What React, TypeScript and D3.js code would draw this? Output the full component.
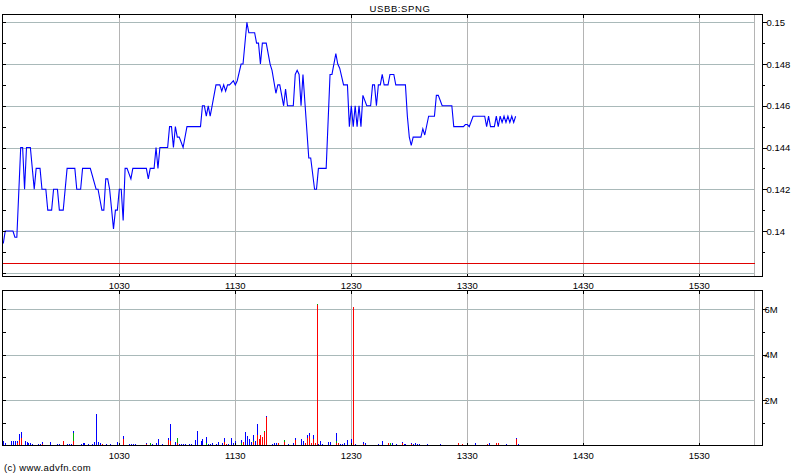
import React from "react";
import * as d3 from "d3";

// ---- Price series (minutes since midnight, price) ----
const priceTimes = [
  570, 571, 575, 576, 577, 579, 580, 581, 582, 584, 586, 587, 589, 590, 592, 593, 595, 596, 598, 599,
  601, 603, 607, 608, 610, 611, 615, 618, 619, 621, 622, 623, 624, 625, 627, 628, 629, 630, 631, 632,
  633, 634, 636, 637, 644, 645, 646, 648, 649, 650, 651, 655, 656, 657, 658, 659, 660, 661, 663, 665,
  672, 673, 674, 675, 676, 677, 678, 680, 682, 683, 684, 685, 686, 687, 688, 689, 690, 691, 693, 694,
  696, 697, 700, 701, 702, 703, 704, 706, 708, 709, 711, 712, 713, 715, 716, 717, 720, 721, 722, 723,
  724, 725, 728, 729, 731, 732, 733, 737, 739, 740, 742, 743, 744, 746, 748, 749, 750, 751, 752, 753,
  754, 755, 756, 758, 760, 761, 762, 763, 764, 765, 766, 767, 769, 770, 772, 773, 778, 779, 780, 781,
  782, 786, 787, 788, 790, 793, 794, 795, 797, 802, 803, 808, 809, 810, 811, 813, 819, 820, 821, 822,
  824, 825, 826, 827, 828, 829, 830, 831, 832, 833, 834, 835,
];
const priceValues = [
  0.1394, 0.14, 0.14, 0.1397, 0.1397, 0.144, 0.144, 0.142, 0.144, 0.144, 0.142, 0.143, 0.143, 0.142, 0.142, 0.141, 0.141, 0.142, 0.142, 0.141,
  0.141, 0.143, 0.143, 0.142, 0.142, 0.143, 0.143, 0.142, 0.142, 0.141, 0.141, 0.1425, 0.1425, 0.142, 0.1401, 0.141, 0.141, 0.142, 0.142, 0.1405,
  0.143, 0.143, 0.1425, 0.143, 0.143, 0.1425, 0.143, 0.143, 0.144, 0.143, 0.144, 0.144, 0.145, 0.145, 0.144, 0.145, 0.1445, 0.1445, 0.144, 0.145,
  0.145, 0.146, 0.146, 0.1455, 0.146, 0.1455, 0.146, 0.147, 0.147, 0.1467, 0.147, 0.1467, 0.147, 0.147, 0.1471, 0.1472, 0.147, 0.1472, 0.148, 0.148,
  0.15, 0.1495, 0.1495, 0.149, 0.149, 0.148, 0.149, 0.149, 0.148, 0.1477, 0.1466, 0.147, 0.147, 0.146, 0.1468, 0.146, 0.146, 0.1475, 0.1477, 0.1475,
  0.146, 0.1475, 0.1435, 0.1435, 0.142, 0.142, 0.143, 0.143, 0.1475, 0.1475, 0.1485, 0.148, 0.1478, 0.147, 0.147, 0.145, 0.146, 0.145, 0.146, 0.145,
  0.146, 0.145, 0.1465, 0.146, 0.146, 0.147, 0.147, 0.146, 0.147, 0.147, 0.1475, 0.147, 0.147, 0.1475, 0.1475, 0.147, 0.147, 0.1455, 0.1445, 0.1441,
  0.1445, 0.1445, 0.1449, 0.1446, 0.1455, 0.1455, 0.1465, 0.1465, 0.146, 0.146, 0.145, 0.145, 0.1451, 0.1451, 0.145, 0.1455, 0.1455, 0.145, 0.1455, 0.145,
  0.145, 0.1455, 0.145, 0.1455, 0.1452, 0.1455, 0.1452, 0.1455, 0.1452, 0.1455, 0.1452, 0.1455,
];
const refPrice = 0.13847;

// ---- Volume series (minute, red / green / blue parts in thousands) ----
const volTimes = [
  570, 571, 574, 575, 576, 577, 578, 579, 581, 582, 583, 584, 585, 588, 589, 590, 594, 598, 599, 601,
  603, 604, 605, 606, 610, 611, 612, 614, 616, 617, 618, 619, 620, 621, 623, 625, 629, 632, 635, 636,
  637, 638, 644, 646, 647, 649, 650, 652, 655, 656, 659, 660, 661, 662, 663, 664, 666, 667, 669, 670,
  672, 673, 675, 676, 677, 678, 680, 681, 683, 684, 685, 686, 688, 689, 690, 693, 694, 695, 696, 697,
  698, 699, 700, 701, 702, 703, 704, 705, 706, 709, 710, 711, 712, 715, 717, 720, 721, 724, 725, 726,
  727, 728, 729, 730, 731, 732, 733, 734, 735, 738, 739, 742, 743, 744, 745, 746, 748, 750, 751, 752,
  756, 757, 764, 766, 769, 770, 771, 773, 776, 777, 778, 781, 782, 783, 784, 785, 789, 796, 805, 807,
  814, 820, 821, 825, 826, 830, 835, 836,
];
const volRed = [
  0, 0, 0, 0, 0, 100, 240, 316, 0, 0, 0, 0, 0, 0, 0, 80, 0, 0, 0, 210,
  0, 0, 0, 200, 0, 0, 0, 0, 0, 0, 0, 0, 0, 80, 0, 0, 0, 270, 0, 0,
  0, 0, 60, 0, 0, 0, 0, 0, 230, 200, 0, 100, 0, 0, 0, 0, 0, 0, 0, 0,
  0, 0, 0, 0, 0, 0, 0, 0, 0, 150, 50, 0, 0, 0, 0, 0, 170, 0, 0, 0,
  0, 150, 0, 460, 290, 465, 390, 580, 1270, 0, 0, 0, 95, 150, 0, 0, 240, 0, 0, 125,
  330, 420, 95, 270, 95, 6180, 0, 0, 0, 0, 0, 110, 95, 0, 0, 0, 0, 0, 6090, 0,
  80, 0, 0, 0, 100, 0, 0, 0, 120, 0, 0, 80, 0, 0, 0, 0, 0, 0, 110, 50,
  0, 50, 0, 110, 110, 0, 290, 0,
];
const volGreen = [
  0, 0, 0, 0, 0, 0, 0, 0, 0, 0, 0, 0, 0, 0, 0, 0, 0, 0, 0, 0,
  0, 0, 0, 340, 0, 0, 0, 0, 0, 0, 0, 0, 0, 0, 0, 0, 0, 0, 0, 0,
  0, 0, 0, 110, 0, 0, 0, 0, 0, 0, 0, 230, 0, 0, 0, 0, 0, 0, 0, 0,
  0, 0, 120, 0, 0, 0, 0, 0, 0, 0, 0, 0, 0, 0, 0, 120, 0, 0, 0, 0,
  0, 50, 0, 0, 0, 0, 0, 60, 0, 0, 0, 0, 0, 90, 0, 0, 0, 0, 0, 0,
  0, 0, 0, 0, 0, 40, 0, 0, 0, 0, 0, 70, 0, 0, 0, 0, 0, 0, 0, 0,
  0, 0, 0, 0, 0, 95, 0, 0, 0, 0, 0, 0, 0, 0, 0, 0, 0, 0, 0, 0,
  0, 0, 0, 0, 0, 0, 0, 0,
];
const volBlue = [
  200, 125, 200, 200, 200, 100, 270, 280, 200, 170, 125, 125, 80, 80, 80, 90, 170, 80, 80, 0,
  80, 80, 80, 100, 80, 110, 110, 80, 80, 170, 1404, 170, 125, 0, 50, 50, 155, 150, 50, 50,
  50, 50, 50, 0, 50, 110, 290, 50, 90, 760, 155, 0, 50, 80, 80, 50, 50, 50, 240, 650,
  200, 290, 255, 80, 80, 110, 50, 155, 110, 180, 0, 50, 330, 110, 200, 140, 0, 595, 420, 290,
  155, 265, 200, 490, 0, 0, 0, 0, 20, 65, 95, 95, 0, 0, 65, 95, 90, 270, 210, 0,
  130, 140, 0, 190, 0, 0, 65, 180, 65, 155, 155, 380, 0, 65, 65, 95, 240, 300, 0, 65,
  75, 125, 65, 180, 0, 0, 95, 65, 35, 50, 50, 40, 80, 110, 80, 50, 50, 50, 0, 0,
  110, 0, 110, 0, 0, 50, 40, 50,
];

// ---- Axis ticks / labels ----
const hourTicks = [630, 690, 750, 810, 870, 930];
const hourLabels = ["1030", "1130", "1230", "1330", "1430", "1530"];
const priceTicks = [0.14, 0.142, 0.144, 0.146, 0.148, 0.15];
const priceLabels = ["0.14", "0.142", "0.144", "0.146", "0.148", "0.15"];
const volTicks = [2e6, 4e6, 6e6];
const volLabels = ["2M", "4M", "6M"];
const title = "USBB:SPNG";
const credit = "(c) www.advfn.com";

const FONT = "'Liberation Sans', Arial, sans-serif";

export default function App() {
  const L = 2.5, R = 762.5;
  const pTop = 14.5, pBot = 276.5;
  const vTop = 290.5, vBot = 445.5;
  const endLine = 754.5;

  const x = d3.scaleLinear().domain([570, 630]).range([3.3, 119.3]);
  const yP = d3.scaleLinear().domain([0.14, 0.15]).range([231, 22.3]);
  const yV = d3.scaleLinear().domain([0, 6e6]).range([445.5, 309]);

  const line = d3
    .line<number>()
    .x((_, i) => x(priceTimes[i]))
    .y((d) => yP(d));

  const gridH = "#a9b9b9";
  const gridV = "#b4b4b4";
  const px = (v: number) => Math.round(v) + 0.5;

  const priceGrid = [0.138, ...priceTicks];
  const priceMinor = d3.range(0, 13).map((i) => 0.138 + i * 0.001);
  const priceRightMinor = [0.139, 0.141, 0.143, 0.145, 0.147, 0.149];
  const volMinor = [1e6, 3e6, 5e6];
  const volLeft = [1e6, 2e6, 3e6, 4e6, 5e6, 6e6];

  const bars: React.ReactElement[] = [];
  volTimes.forEach((t, i) => {
    const bx = Math.round(x(t));
    let base = 0;
    const parts: [number, string][] = [
      [volRed[i], "#ff0000"],
      [volGreen[i], "#00b000"],
      [volBlue[i], "#0000ff"],
    ];
    parts.forEach(([v, c], j) => {
      if (v <= 0) return;
      const y0 = yV(base * 1000);
      const y1 = yV((base + v) * 1000);
      bars.push(
        <rect key={`b${i}-${j}`} x={bx} y={y1} width={1} height={Math.max(0.8, y0 - y1)} fill={c} />
      );
      base += v;
    });
  });

  return (
    <svg
      width={800}
      height={475}
      style={{ position: "absolute", left: 0, top: 0, background: "#fff" }}
      fontFamily={FONT}
    >
      <rect x={0} y={0} width={800} height={475} fill="#fff" />
      <defs>
        <clipPath id="clipP">
          <rect x={L} y={pTop} width={R - L} height={pBot - pTop} />
        </clipPath>
      </defs>
      <text x={400} y={11.5} textAnchor="middle" fontSize={9.5} letterSpacing={0.6} fill="#000">
        {title}
      </text>

      {/* ---------- Price panel ---------- */}
      <g shapeRendering="crispEdges">
        {priceGrid.map((v) => (
          <line key={`pg${v}`} x1={L} x2={endLine} y1={px(yP(v))} y2={px(yP(v))} stroke={gridH} />
        ))}
        {hourTicks.map((t) => (
          <line key={`pv${t}`} x1={px(x(t))} x2={px(x(t))} y1={pTop} y2={pBot} stroke={gridV} />
        ))}
        <line x1={endLine} x2={endLine} y1={pTop} y2={pBot} stroke={gridV} />
        <line x1={L} x2={endLine} y1={px(yP(refPrice))} y2={px(yP(refPrice))} stroke="#e00000" />
      </g>
      <path d={line(priceValues) || ""} fill="none" stroke="#0000ff" strokeWidth={1.1} clipPath="url(#clipP)" />
      <g shapeRendering="crispEdges" stroke="#000">
        <rect x={L} y={pTop} width={R - L} height={pBot - pTop} fill="none" />
        {priceMinor.map((v) => (
          <line key={`pl${v}`} x1={L} x2={L + 3} y1={px(yP(v))} y2={px(yP(v))} />
        ))}
        {priceTicks.map((v) => (
          <line key={`pr${v}`} x1={R} x2={R + 4} y1={px(yP(v))} y2={px(yP(v))} />
        ))}
        {priceRightMinor.map((v) => (
          <line key={`prm${v}`} x1={R} x2={R + 2} y1={px(yP(v))} y2={px(yP(v))} />
        ))}
        {hourTicks.map((t) => (
          <g key={`pt${t}`}>
            <line x1={px(x(t))} x2={px(x(t))} y1={pTop} y2={pTop + 3} />
            <line x1={px(x(t))} x2={px(x(t))} y1={pBot - 3} y2={pBot} />
          </g>
        ))}
      </g>
      {priceTicks.map((v, i) => (
        <text key={`plb${v}`} x={R + 4} y={yP(v) + 3.5} fontSize={9.5} fill="#000">
          {priceLabels[i]}
        </text>
      ))}
      {hourTicks.map((t, i) => (
        <text key={`xl1${t}`} x={x(t)} y={288.5} fontSize={9.5} textAnchor="middle" fill="#000">
          {hourLabels[i]}
        </text>
      ))}

      {/* ---------- Volume panel ---------- */}
      <g shapeRendering="crispEdges">
        {volTicks.map((v) => (
          <line key={`vg${v}`} x1={L} x2={endLine} y1={px(yV(v))} y2={px(yV(v))} stroke={gridH} />
        ))}
        {hourTicks.map((t) => (
          <line key={`vv${t}`} x1={px(x(t))} x2={px(x(t))} y1={vTop} y2={vBot} stroke={gridV} />
        ))}
        <line x1={endLine} x2={endLine} y1={vTop} y2={vBot} stroke={gridV} />
        {bars}
      </g>
      <g shapeRendering="crispEdges" stroke="#000">
        <rect x={L} y={vTop} width={R - L} height={vBot - vTop} fill="none" />
        {volLeft.map((v) => (
          <line key={`vl${v}`} x1={L} x2={L + 3} y1={px(yV(v))} y2={px(yV(v))} />
        ))}
        {volTicks.map((v) => (
          <line key={`vr${v}`} x1={R} x2={R + 4} y1={px(yV(v))} y2={px(yV(v))} />
        ))}
        {volMinor.map((v) => (
          <line key={`vrm${v}`} x1={R} x2={R + 2} y1={px(yV(v))} y2={px(yV(v))} />
        ))}
        {hourTicks.map((t) => (
          <g key={`vt${t}`}>
            <line x1={px(x(t))} x2={px(x(t))} y1={vTop} y2={vTop + 3} />
            <line x1={px(x(t))} x2={px(x(t))} y1={vBot - 3} y2={vBot} />
          </g>
        ))}
      </g>
      {volTicks.map((v, i) => (
        <text key={`vlb${v}`} x={R + 2} y={yV(v) + 3.5} fontSize={9.5} fill="#000">
          {volLabels[i]}
        </text>
      ))}
      {hourTicks.map((t, i) => (
        <text key={`xl2${t}`} x={x(t)} y={458.5} fontSize={9.5} textAnchor="middle" fill="#000">
          {hourLabels[i]}
        </text>
      ))}
      <text x={4} y={471} fontSize={9.5} letterSpacing={0.4} fill="#000">
        {credit}
      </text>
    </svg>
  );
}
